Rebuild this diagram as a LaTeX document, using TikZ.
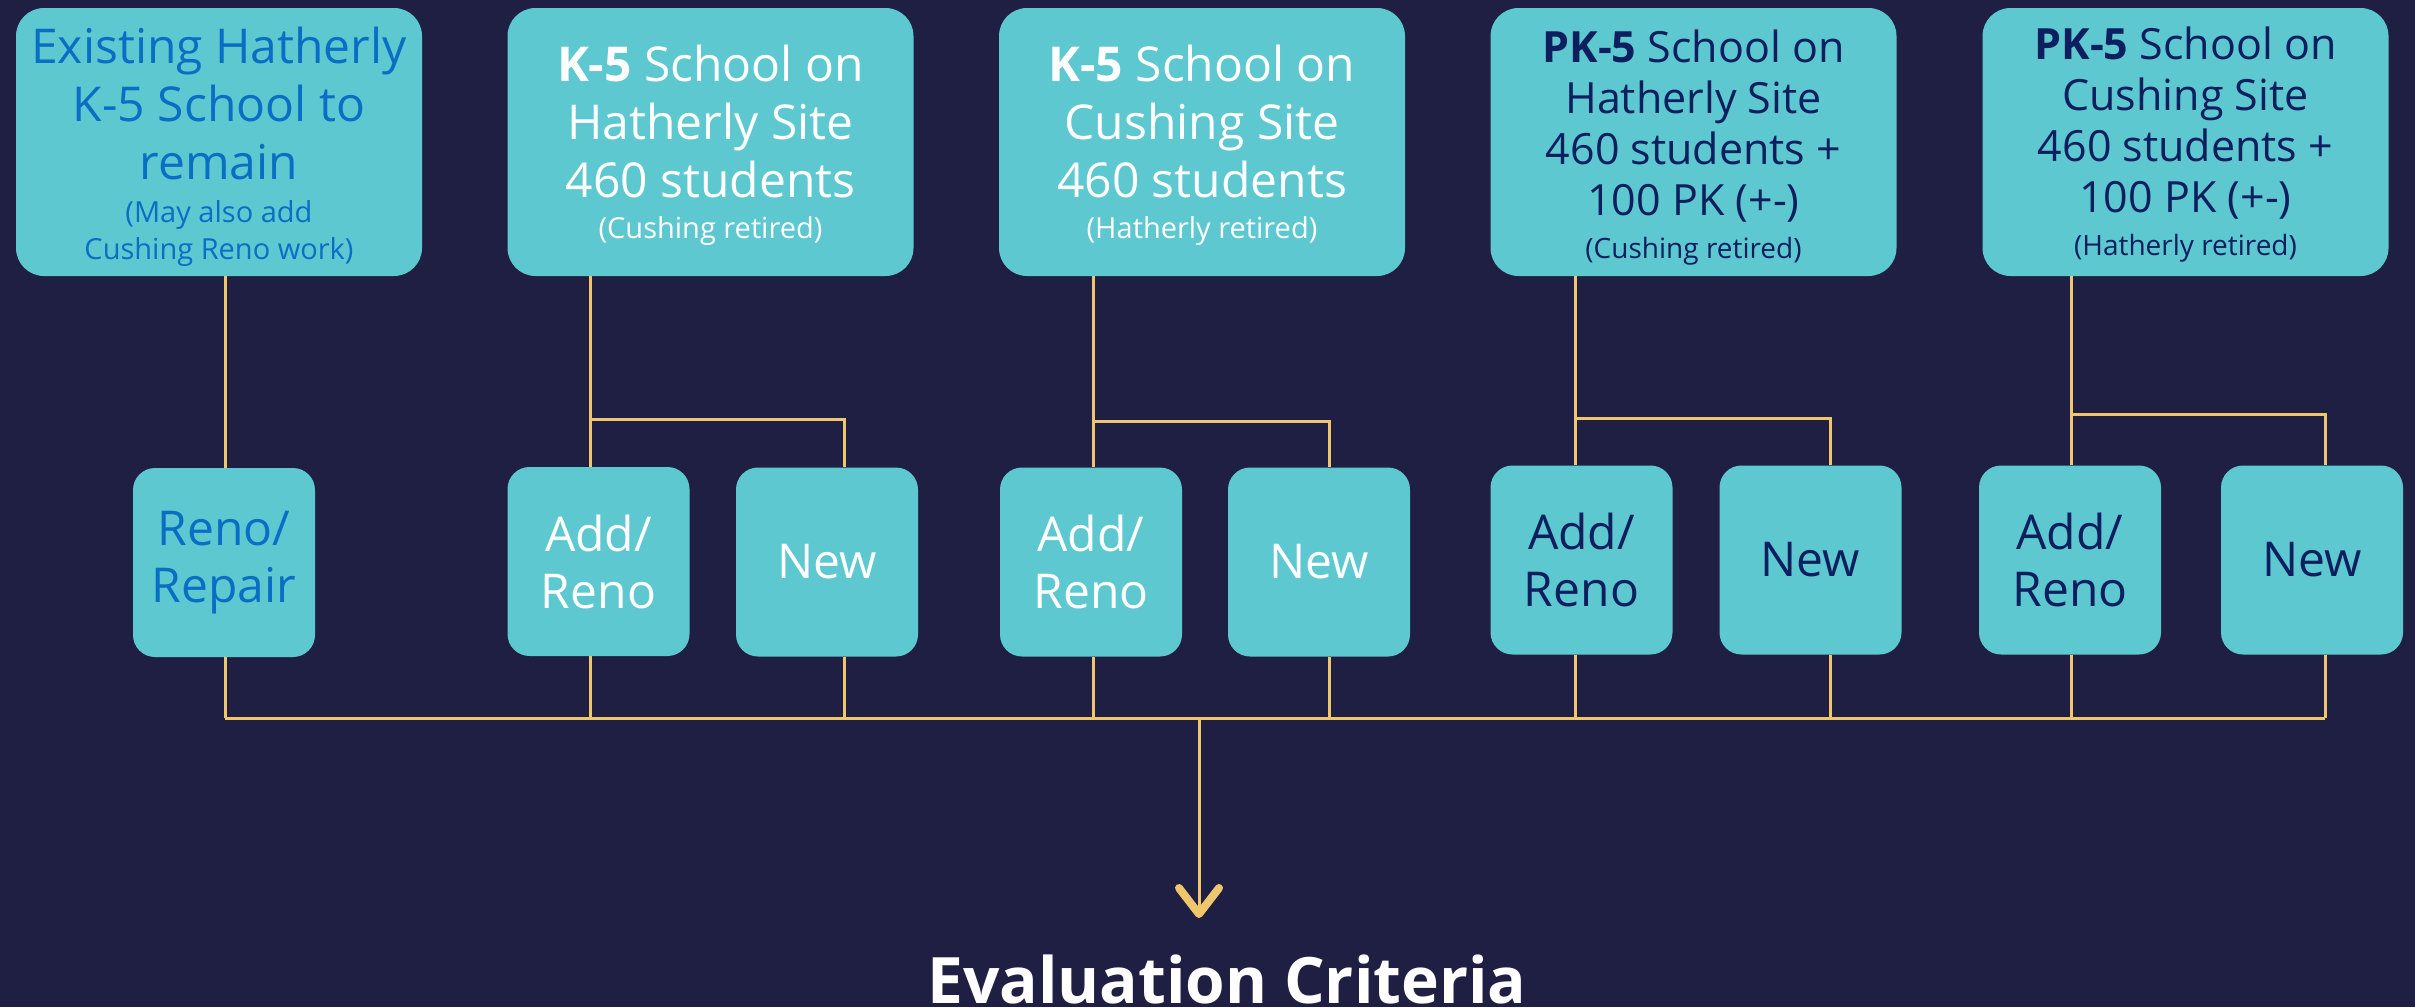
\documentclass[tikz,border=0pt]{standalone}
\usepackage{fontspec}
\setmainfont{Open Sans}
\definecolor{bgc}{HTML}{1E1F43}
\definecolor{boxc}{HTML}{5DC8D0}
\definecolor{linec}{HTML}{EFC66B}
\definecolor{bluet}{HTML}{0A6EC4}
\definecolor{navyt}{HTML}{0D1F5E}
\newcommand{\boxtxt}[2]{\begin{minipage}{400pt}\centering\vspace*{#1}#2\end{minipage}}
\newcommand{\bigf}{\fontsize{48}{58}\selectfont}
\newcommand{\midf}{\fontsize{43}{51}\selectfont}
\begin{document}
\begin{tikzpicture}[x=1pt,y=-1pt,
  tbox/.style={fill=boxc, rounded corners=28pt, minimum width=406pt, minimum height=268pt, inner sep=0pt},
  bbox/.style={fill=boxc, rounded corners=22pt, minimum width=182pt, minimum height=189pt, align=center, inner sep=0pt, font=\fontsize{48}{57}\selectfont},
  conn/.style={draw=linec, line width=3pt},
  chev/.style={draw=linec, line width=8pt, line cap=round, line join=round}]
\fill[bgc] (0,0) rectangle (2415,1007);
\useasboundingbox (0,0) rectangle (2415,1007);

% top boxes
\node[tbox, text=bluet] (T1) at (219,142) {\boxtxt{10pt}{\bigf Existing Hatherly\\K-5 School to\\remain\\[6pt]\fontsize{29}{37}\selectfont (May also add\\Cushing Reno work)}};
\node[tbox, text=white] (T2) at (710.5,142) {\boxtxt{6pt}{\bigf \textbf{K-5} School on\\Hatherly Site\\460 students\\[6pt]\fontsize{29}{35}\selectfont (Cushing retired)}};
\node[tbox, text=white] (T3) at (1202,142) {\boxtxt{6pt}{\bigf \textbf{K-5} School on\\Cushing Site\\460 students\\[6pt]\fontsize{29}{35}\selectfont (Hatherly retired)}};
\node[tbox, text=navyt] (T4) at (1693.5,142) {\boxtxt{11pt}{\midf \textbf{PK-5} School on\\Hatherly Site\\460 students +\\100 PK (+-)\\[9pt]\fontsize{28}{34}\selectfont (Cushing retired)}};
\node[tbox, text=navyt] (T5) at (2185.5,142) {\boxtxt{6pt}{\midf \textbf{PK-5} School on\\Cushing Site\\460 students +\\100 PK (+-)\\[9pt]\fontsize{28}{34}\selectfont (Hatherly retired)}};

% bottom boxes
\node[bbox, text=bluet] (R1) at (224,562.5) {Reno/\\Repair};
\node[bbox, text=white] (A2) at (598.5,561.5) {Add/\\Reno};
\node[bbox, text=white] (N2) at (827,562) {New};
\node[bbox, text=white] (A3) at (1091,562) {Add/\\Reno};
\node[bbox, text=white] (N3) at (1319,562) {New};
\node[bbox, text=navyt] (A4) at (1581.5,560) {Add/\\Reno};
\node[bbox, text=navyt] (N4) at (1810.5,560) {New};
\node[bbox, text=navyt] (A5) at (2070,560) {Add/\\Reno};
\node[bbox, text=navyt] (N5) at (2312,560) {New};

\node[anchor=base, text=white, font=\fontsize{64}{77}\selectfont\bfseries, inner sep=0pt] (EC) at (1227,1003) {Evaluation Criteria};

% line positions
\coordinate (l1) at (225,0);
\coordinate (l2a) at (590,0);  \coordinate (l2b) at (844,0);
\coordinate (l3a) at (1093,0); \coordinate (l3b) at (1329,0);
\coordinate (l4a) at (1575,0); \coordinate (l4b) at (1830,0);
\coordinate (l5a) at (2071,0); \coordinate (l5b) at (2325,0);
\coordinate (br2) at (0,419);
\coordinate (br3) at (0,421);
\coordinate (br4) at (0,418);
\coordinate (br5) at (0,414);
\coordinate (bus) at (1199,718);
\coordinate (tip) at (1199,914);

% connectors
\draw[conn] (T1.south -| l1) -- (R1.north -| l1);
\draw[conn] (R1.south -| l1) -- (l1 |- bus);
\foreach \g/\a/\n in {2/A2/N2,3/A3/N3,4/A4/N4,5/A5/N5}{
  \draw[conn] (T\g.south -| l\g a) -- (\a.north -| l\g a);
  \draw[conn] (l\g a |- br\g) -| (\n.north -| l\g b);
  \draw[conn] (\a.south -| l\g a) -- (l\g a |- bus);
  \draw[conn] (\n.south -| l\g b) -- (l\g b |- bus);
}
\draw[conn] (l1 |- bus) -- (l5b |- bus);
\draw[conn] (bus) -- (tip);
\draw[chev] (tip) ++(-20,-26) -- (tip) -- ++(20,-26);
\end{tikzpicture}
\end{document}
